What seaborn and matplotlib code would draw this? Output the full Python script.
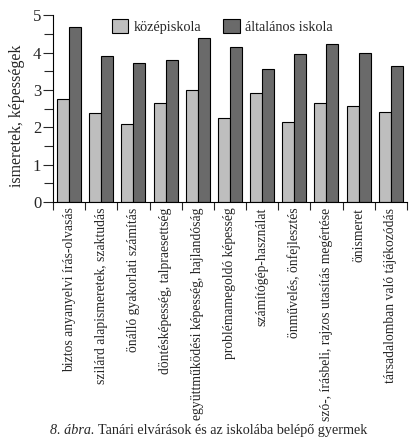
import matplotlib
matplotlib.use('Agg')
import matplotlib.pyplot as plt
from matplotlib.ticker import MultipleLocator
import seaborn as sns
import pandas as pd

categories = [
    'biztos anyanyelvi írás-olvasás',
    'szilárd alapismeretek, szaktudás',
    'önálló gyakorlati számítás',
    'döntésképesség, talpraesettség',
    'együttműködési képesség, hajlandóság',
    'problémamegoldó képesség',
    'számítógép-használat',
    'önművelés, önfejlesztés',
    'szó-, írásbeli, rajzos utasítás megértése',
    'önismeret',
    'társadalomban való tájékozódás',
]
kozepiskola = [2.77, 2.37, 2.10, 2.64, 3.01, 2.26, 2.91, 2.13, 2.66, 2.56, 2.42]
altalanos = [4.67, 3.92, 3.71, 3.79, 4.38, 4.14, 3.55, 3.95, 4.24, 4.00, 3.65]
series = ['középiskola', 'általános iskola']

df = pd.DataFrame({
    'kategoria': categories * 2,
    'ertek': kozepiskola + altalanos,
    'iskola': [series[0]] * len(categories) + [series[1]] * len(categories),
})

sns.set_style('ticks')
plt.rcParams['font.family'] = ['Liberation Serif', 'DejaVu Serif']

fig = plt.figure(figsize=(4.19, 4.46), dpi=100)
ax = fig.add_axes([0.1265, 0.547, 0.8445, 0.419])

sns.barplot(data=df, x='kategoria', y='ertek', hue='iskola',
            palette=['#bebebe', '#6a6a6a'], width=0.75,
            edgecolor='black', linewidth=0.8, ax=ax)

ax.set_ylim(0, 5)
ax.set_xlim(-0.5, len(categories) - 0.5)
ax.yaxis.set_major_locator(MultipleLocator(1))
ax.yaxis.set_minor_locator(MultipleLocator(0.5))
ax.set_xticks([i - 0.5 for i in range(len(categories) + 1)], minor=False)
ax.set_xticklabels([])
ax.set_xticks(range(len(categories)), minor=True)
ax.set_xticklabels(categories, minor=True, rotation=90, fontsize=9.8)
ax.tick_params(axis='x', which='minor', length=0, pad=4)
ax.tick_params(axis='x', which='major', length=6, width=0.8, direction='out')
ax.tick_params(axis='y', which='major', length=7, width=0.8, labelsize=12, pad=1.5)
ax.tick_params(axis='y', which='minor', length=6.5, width=0.8)
ax.set_xlabel('')
ax.set_ylabel('ismeretek, képességek', fontsize=11.4)
ax.yaxis.set_label_coords(-0.079, 0.46)
for s in ['left', 'bottom']:
    ax.spines[s].set_color('black')
    ax.spines[s].set_linewidth(0.8)
sns.despine(ax=ax)

leg = ax.legend(loc='upper left', bbox_to_anchor=(0.13, 1.05), ncol=2,
                frameon=False, fontsize=10.3, handlelength=1.15, handleheight=1.15,
                columnspacing=1.5, handletextpad=0.4)

cap1 = fig.text(0.12, 0.027, '8. ábra.', fontsize=10.2, style='italic', ha='left')
fig.canvas.draw()
bb = cap1.get_window_extent()
x2 = (bb.x1 + 3) / fig.bbox.width
fig.text(x2, 0.027, 'Tanári elvárások és az iskolába belépő gyermek',
         fontsize=10.2, ha='left')

fig.savefig('out.png', dpi=100)
